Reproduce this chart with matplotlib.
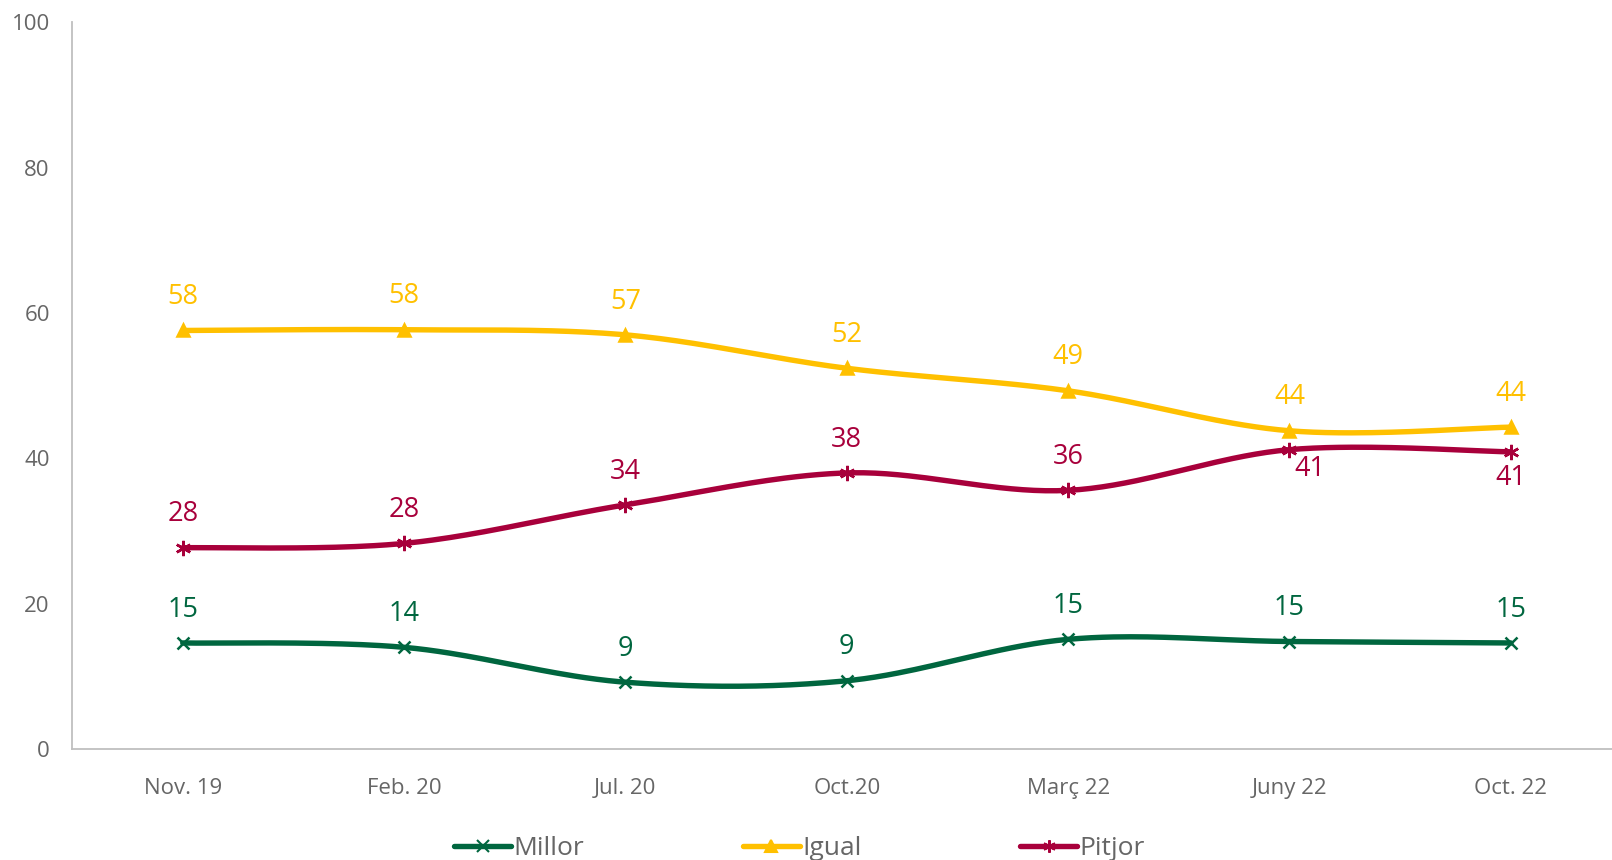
import numpy as np
import matplotlib
matplotlib.use("Agg")
import matplotlib.pyplot as plt

plt.rcParams['font.family'] = ['Open Sans', 'DejaVu Sans']

categories = ["Nov. 19", "Feb. 20", "Jul. 20", "Oct.20", "Març 22", "Juny 22", "Oct. 22"]
millor = [14.6, 14.0, 9.2, 9.4, 15.1, 14.8, 14.6]
igual = [57.6, 57.7, 57.0, 52.4, 49.3, 43.8, 44.3]
pitjor = [27.7, 28.3, 33.6, 38.0, 35.6, 41.2, 40.9]
yticks = [0, 20, 40, 60, 80, 100]

def smooth(x, y, n=40, t=1/6):
    x = np.asarray(x, float); y = np.asarray(y, float)
    px = np.concatenate([[x[0]], x, [x[-1]]])
    py = np.concatenate([[y[0]], y, [y[-1]]])
    xs, ys = [], []
    for i in range(len(x) - 1):
        p0 = np.array([px[i], py[i]]); p1 = np.array([px[i+1], py[i+1]])
        p2 = np.array([px[i+2], py[i+2]]); p3 = np.array([px[i+3], py[i+3]])
        c1 = p1 + (p2 - p0) * t
        c2 = p2 - (p3 - p1) * t
        s = np.linspace(0, 1, n)[:, None]
        b = (1-s)**3*p1 + 3*(1-s)**2*s*c1 + 3*(1-s)*s**2*c2 + s**3*p2
        xs.append(b[:, 0]); ys.append(b[:, 1])
    return np.concatenate(xs), np.concatenate(ys)

fig = plt.figure(figsize=(16.12, 8.6), dpi=100)
ax = fig.add_axes([0.0447, 0.129, 0.9553, 0.845])

x = np.arange(len(categories))
series = [
    ("Millor", millor, "#00663F", "x", 9, [(0, 24)] * 7),
    ("Igual", igual, "#FFC000", "^", 9, [(0, 24)] * 7),
    ("Pitjor", pitjor, "#A8003B", (6, 2, 0), 11,
     [(0, 24)] * 5 + [(15, -14), (0, -19)]),
]
handles = []
for name, vals, col, mk, ms, offs in series:
    sx, sy = smooth(x, vals)
    ax.plot(sx, sy, color=col, lw=3.9, solid_capstyle='round', zorder=2)
    ax.plot(x, vals, linestyle='none', marker=mk, ms=ms, mew=1.8,
            color=col, mec=col, zorder=3)
    h, = ax.plot([], [], color=col, lw=3.9, marker=mk, ms=9, mew=1.5,
                 solid_capstyle='round', label=name)
    handles.append(h)
    for xi, v, off in zip(x, vals, offs):
        ax.annotate(f"{v:.0f}", (xi, v), xytext=off, textcoords='offset points',
                    ha='center', va='center', fontsize=19.5, color=col)

ax.set_xlim(-0.5, 6.457)
ax.set_ylim(0, 100)
ax.set_yticks(yticks)
ax.set_xticks(x)
ax.set_xticklabels(categories)
ax.tick_params(axis='both', length=0, labelsize=16, labelcolor='#666666')
ax.tick_params(axis='x', pad=21)
ax.tick_params(axis='y', pad=16)
for s in ['top', 'right']:
    ax.spines[s].set_visible(False)
for s in ['left', 'bottom']:
    ax.spines[s].set_color('#BFBFBF')
    ax.spines[s].set_linewidth(1.3)

leg = fig.legend(handles=handles, loc='lower center', bbox_to_anchor=(0.496, -0.029),
                 ncol=3, frameon=False, fontsize=19, handlelength=2.16,
                 handletextpad=0.1, columnspacing=6.0)
for t in leg.get_texts():
    t.set_color('#666666')

fig.savefig("out.png", dpi=100)
